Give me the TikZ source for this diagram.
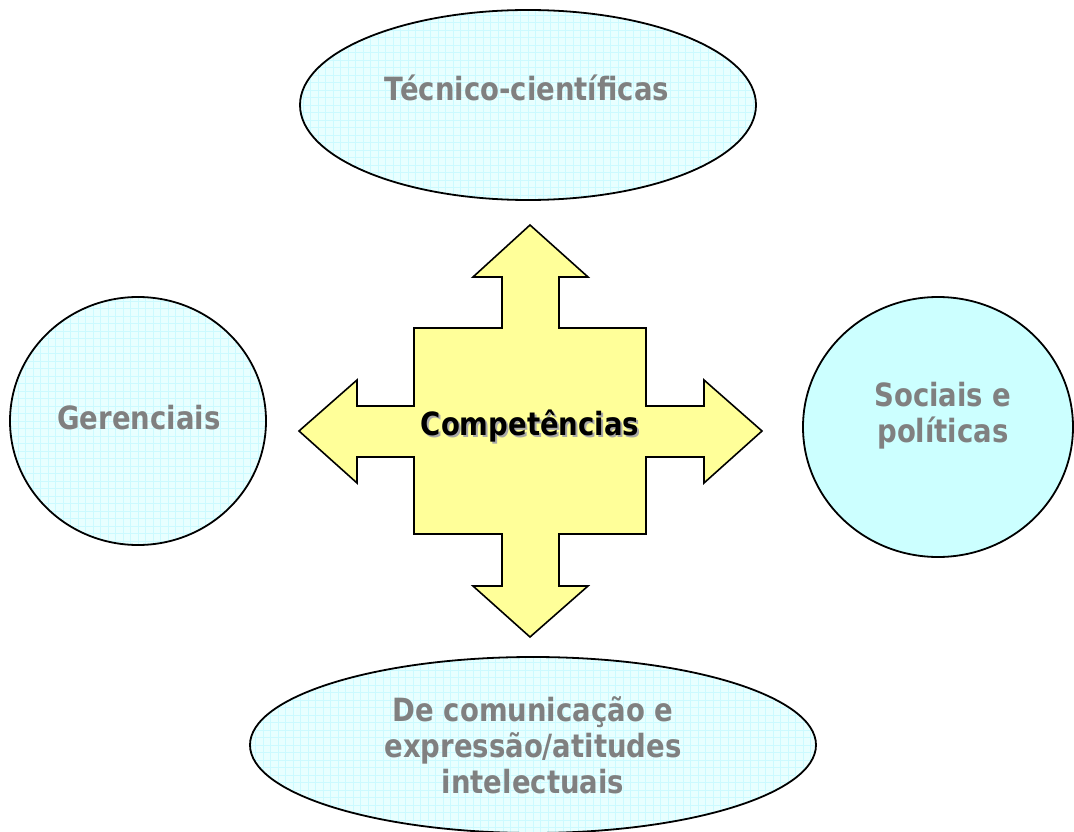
\documentclass[tikz,border=0pt]{standalone}
\usepackage{fontspec}
\setmainfont{DejaVu Sans}[FakeStretch=0.86]
\usetikzlibrary{shapes.geometric}
\definecolor{cyanlt}{HTML}{E8FFFF}
\definecolor{cyangrid}{HTML}{CCFAFF}
\definecolor{cyanfull}{HTML}{CCFFFF}
\definecolor{yel}{HTML}{FFFF99}
\definecolor{txtgray}{HTML}{808080}
\definecolor{shadowgray}{HTML}{A8A8A8}
\tikzset{
 oval/.style={ellipse, draw=black, line width=1.8pt, inner sep=0pt},
 gridoval/.style={oval, fill=cyanlt, path picture={\draw[cyangrid, line width=0.6pt, step=7.5pt] (path picture bounding box.south west) grid (path picture bounding box.north east);}},
 lbl/.style={text=txtgray, font=\fontsize{32}{36}\selectfont\bfseries, align=center, inner sep=0pt},
 arrowshape/.style={draw=black, line width=1.6pt, fill=yel, line join=miter},
}
\begin{document}
\begin{tikzpicture}[x=1pt,y=-1pt]
\useasboundingbox (0,0) rectangle (1074,832);
\clip (0,0) rectangle (1074,832);
\fill[white] (0,0) rectangle (1074,832);
% ovals
\node[gridoval, minimum width=456pt, minimum height=190pt] (top) at (528,105) {};
\node[gridoval, minimum width=256pt, minimum height=248pt] (left) at (138,421) {};
\node[oval, fill=cyanfull, minimum width=270pt, minimum height=260pt] (right) at (938,427) {};
\node[gridoval, minimum width=566pt, minimum height=176pt] (bottom) at (533,745) {};
% four-way arrow
\path[arrowshape] (530,225) -- (588,277) -- (559,277) -- (559,328) -- (646,328) -- (646,406) -- (704,406) -- (704,380) -- (762,431) -- (704,483) -- (704,457) -- (646,457) -- (646,534) -- (559,534) -- (559,586) -- (588,586) -- (530,637) -- (473,586) -- (502,586) -- (502,534) -- (414,534) -- (414,457) -- (357,457) -- (357,483) -- (299,431) -- (357,380) -- (357,406) -- (414,406) -- (414,328) -- (502,328) -- (502,277) -- (473,277) -- cycle;
% labels
\node[lbl] (toptext) at (527,88) {Técnico-científicas};
\node[lbl] (lefttext) at (139,418) {Gerenciais};
\node[lbl] (righttext) at (943,416) {Sociais e\\políticas};
\node[lbl] (bottomtext) at (533,745) {De comunicação e\\expressão/atitudes\\intelectuais};
\node[lbl, text=shadowgray] (compshadow) at (532,428) {Competências};
\node[lbl, text=black] (comp) at (530,426) {Competências};
\end{tikzpicture}
\end{document}
